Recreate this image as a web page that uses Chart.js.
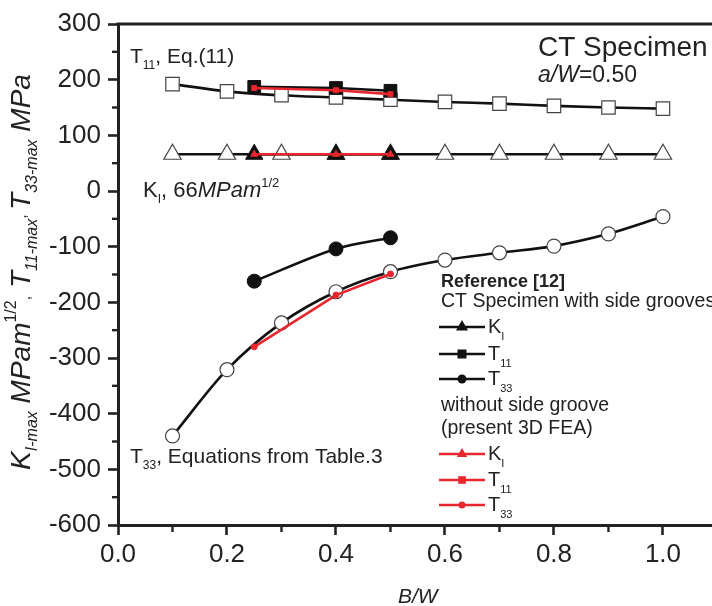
<!DOCTYPE html>
<html><head><meta charset="utf-8">
<script src="https://cdn.jsdelivr.net/npm/chart.js@4"></script>
<style>html,body{margin:0;padding:0;background:#fff}</style>
</head><body>
<canvas id="c" width="712" height="606"></canvas>
<script>
// values
const bwEq=[0.1,0.2,0.3,0.4,0.5,0.6,0.7,0.8,0.9,1.0];
const t11Eq=[192,179,172,168,164,160,157,153,150,148];
const kiEq=[66,66,66,66,66,66,66,66,66,66];
const t33Eq=[-440,-321,-237,-181,-145,-124,-111,-99,-77,-46];

const bwRef=[0.25,0.4,0.5];
const kiRef=[66,66,66];
const t11Ref=[187,185,180];
const t33Ref=[-162,-104,-84];

const bwFea=[0.25,0.4,0.5];
const kiFea=[66,66,66];
const t11Fea=[185,181,174];
const t33Fea=[-280,-187,-149];

const xTicks=[0,0.2,0.4,0.6,0.8,1.0];
const yTicks=[-600,-500,-400,-300,-200,-100,0,100,200,300];

const FF='"Liberation Sans", Arial, sans-serif';
const INK='#222';
const RED='#e8262d';

const pts=(xs,ys)=>xs.map((x,i)=>({x:x,y:ys[i]}));

function openSet(xs,ys,style,r){
return {data:pts(xs,ys),borderColor:'#111',borderWidth:2.6,pointStyle:style,pointRadius:r,
pointBackgroundColor:'#fff',pointBorderColor:'#444',pointBorderWidth:1.2,
cubicInterpolationMode:'monotone',order:2};
}
function refSet(xs,ys,style,r,smooth){
return {data:pts(xs,ys),borderColor:'#111',borderWidth:2.6,pointStyle:style,pointRadius:r,
pointBackgroundColor:'#111',pointBorderColor:'#111',pointBorderWidth:1,
cubicInterpolationMode:smooth?'monotone':'default',tension:0,order:1};
}
function feaSet(xs,ys,style,r){
return {data:pts(xs,ys),borderColor:RED,borderWidth:2.6,pointStyle:style,pointRadius:r,
pointBackgroundColor:RED,pointBorderColor:RED,pointBorderWidth:1,tension:0,order:0};
}

// rich text helpers
const P=(t,s,o)=>Object.assign({t:t,s:s},o||{});
function fnt(p){return (p.i?'italic ':'')+(p.b?'bold ':'')+p.s+'px '+FF;}
function rich(ctx,parts,x,y,align){
let w=0;
parts.forEach(p=>{ctx.font=fnt(p);p.w=ctx.measureText(p.t).width;w+=p.w;});
let cx=align==='center'?x-w/2:x;
ctx.textAlign='left';ctx.textBaseline='alphabetic';
parts.forEach(p=>{ctx.font=fnt(p);ctx.fillText(p.t,cx,y+(p.d||0));cx+=p.w;});
}
function mark(ctx,style,x,y,r,color){
ctx.fillStyle=color;ctx.beginPath();
if(style==='triangle'){ctx.moveTo(x,y-r);ctx.lineTo(x+r*0.866,y+r*0.5);ctx.lineTo(x-r*0.866,y+r*0.5);ctx.closePath();}
else if(style==='rect'){ctx.rect(x-r,y-r,2*r,2*r);}
else{ctx.arc(x,y,r,0,Math.PI*2);}
ctx.fill();
}

const legendRows=[
{y:287,parts:[P('Reference [12]',18,{b:true})]},
{y:307,parts:[P('CT Specimen with side grooves',19.5)]},
{y:333,sym:['triangle',7,'#111'],parts:[P('K',20),P('I',11,{d:7})]},
{y:360,sym:['rect',4.5,'#111'],parts:[P('T',20),P('11',11,{d:7})]},
{y:385,sym:['circle',4.5,'#111'],parts:[P('T',20),P('33',11,{d:7})]},
{y:411,parts:[P('without side groove',19.5)]},
{y:434,parts:[P('(present 3D FEA)',19.5)]},
{y:460,sym:['triangle',6,RED],parts:[P('K',20),P('I',11,{d:7})]},
{y:486,sym:['rect',3.8,RED],parts:[P('T',20),P('11',11,{d:7})]},
{y:511,sym:['circle',3.5,RED],parts:[P('T',20),P('33',11,{d:7})]}
];

const decor={
id:'decor',
afterDraw(chart){
const ctx=chart.ctx,a=chart.chartArea,xs=chart.scales.x,ys=chart.scales.y;
ctx.save();
ctx.strokeStyle=INK;ctx.lineWidth=3;
ctx.beginPath();ctx.moveTo(a.left-1.5,a.top);ctx.lineTo(a.right,a.top);ctx.stroke();
// minor ticks
ctx.lineWidth=2.4;
for(let v=-550;v<300;v+=100){const py=ys.getPixelForValue(v);ctx.beginPath();ctx.moveTo(a.left,py);ctx.lineTo(a.left-6,py);ctx.stroke();}
for(let v=0.1;v<1.05;v+=0.2){const px=xs.getPixelForValue(v);ctx.beginPath();ctx.moveTo(px,a.bottom);ctx.lineTo(px,a.bottom+7);ctx.stroke();}
ctx.fillStyle=INK;
// y title
ctx.save();
ctx.translate(30,272);ctx.rotate(-Math.PI/2);
rich(ctx,[P('K',28,{i:true}),P('I-max',16,{i:true,d:7}),P(' MPam',28,{i:true}),P('1/2',16,{d:-14}),
P(',',16),P(' T',28,{i:true}),P('11-max',16,{i:true,d:7}),P(', ',16,{d:-4}),P('T',28,{i:true}),
P('33-max',16,{i:true,d:7}),P(' MPa',28,{i:true})],0,0,'center');
ctx.restore();
// x title
rich(ctx,[P('B/W',21,{i:true})],xs.getPixelForValue(0.55),603,'center');
// curve labels
rich(ctx,[P('T',21),P('11',12,{d:6}),P(', Eq.(11)',21)],130,63);
rich(ctx,[P('K',22),P('I',12,{d:6}),P(', 66',22),P('MPam',22,{i:true}),P('1/2',13,{d:-10})],143,197);
rich(ctx,[P('T',21),P('33',12,{d:6}),P(', Equations from Table.3',21)],130,463);
rich(ctx,[P('CT Specimen',28)],538,56);
rich(ctx,[P('a/W',23,{i:true}),P('=0.50',23)],538,82);
// legend
legendRows.forEach(r=>{
if(r.sym){
const cy=r.y-6;
ctx.strokeStyle=r.sym[2];ctx.lineWidth=2.6;
ctx.beginPath();ctx.moveTo(439,cy);ctx.lineTo(485,cy);ctx.stroke();
mark(ctx,r.sym[0],462,cy,r.sym[1],r.sym[2]);
ctx.fillStyle=INK;
rich(ctx,r.parts,488,r.y);
}else{
ctx.fillStyle=INK;
rich(ctx,r.parts,441,r.y);
}
});
ctx.restore();
}
};

new Chart(document.getElementById('c'),{
type:'line',
data:{datasets:[
openSet(bwEq,t11Eq,'rect',9.5),
openSet(bwEq,kiEq,'triangle',10),
openSet(bwEq,t33Eq,'circle',7),
refSet(bwRef,kiRef,'triangle',10,false),
refSet(bwRef,t11Ref,'rect',9,false),
refSet(bwRef,t33Ref,'circle',7,true),
feaSet(bwFea,kiFea,'triangle',4),
feaSet(bwFea,t11Fea,'rect',3.5),
feaSet(bwFea,t33Fea,'circle',3)
]},
options:{
responsive:false,animation:false,devicePixelRatio:1,
layout:{autoPadding:false,padding:{top:24,right:0,left:0,bottom:0}},
plugins:{legend:{display:false},tooltip:{enabled:false}},
scales:{
x:{type:'linear',min:0,max:1.09,
afterBuildTicks:s=>{s.ticks=xTicks.map(v=>({value:v}));},
afterFit:s=>{s.height=81;s.paddingLeft=0;s.paddingRight=0;},
grid:{drawOnChartArea:false,drawTicks:true,tickLength:10,tickWidth:2.6,tickColor:INK},
border:{display:true,width:3,color:INK},
ticks:{color:INK,padding:4,maxRotation:0,font:{family:FF,size:26},callback:v=>v.toFixed(1)}},
y:{type:'linear',min:-600,max:300,
afterBuildTicks:s=>{s.ticks=yTicks.map(v=>({value:v}));},
afterFit:s=>{s.width=118;s.paddingTop=0;s.paddingBottom=0;},
grid:{drawOnChartArea:false,drawTicks:true,tickLength:10,tickWidth:2.6,tickColor:INK},
border:{display:true,width:3,color:INK},
ticks:{color:INK,padding:7,font:{family:FF,size:26},callback:v=>String(v)}}
}
},
plugins:[decor]
});
</script>
</body></html>
